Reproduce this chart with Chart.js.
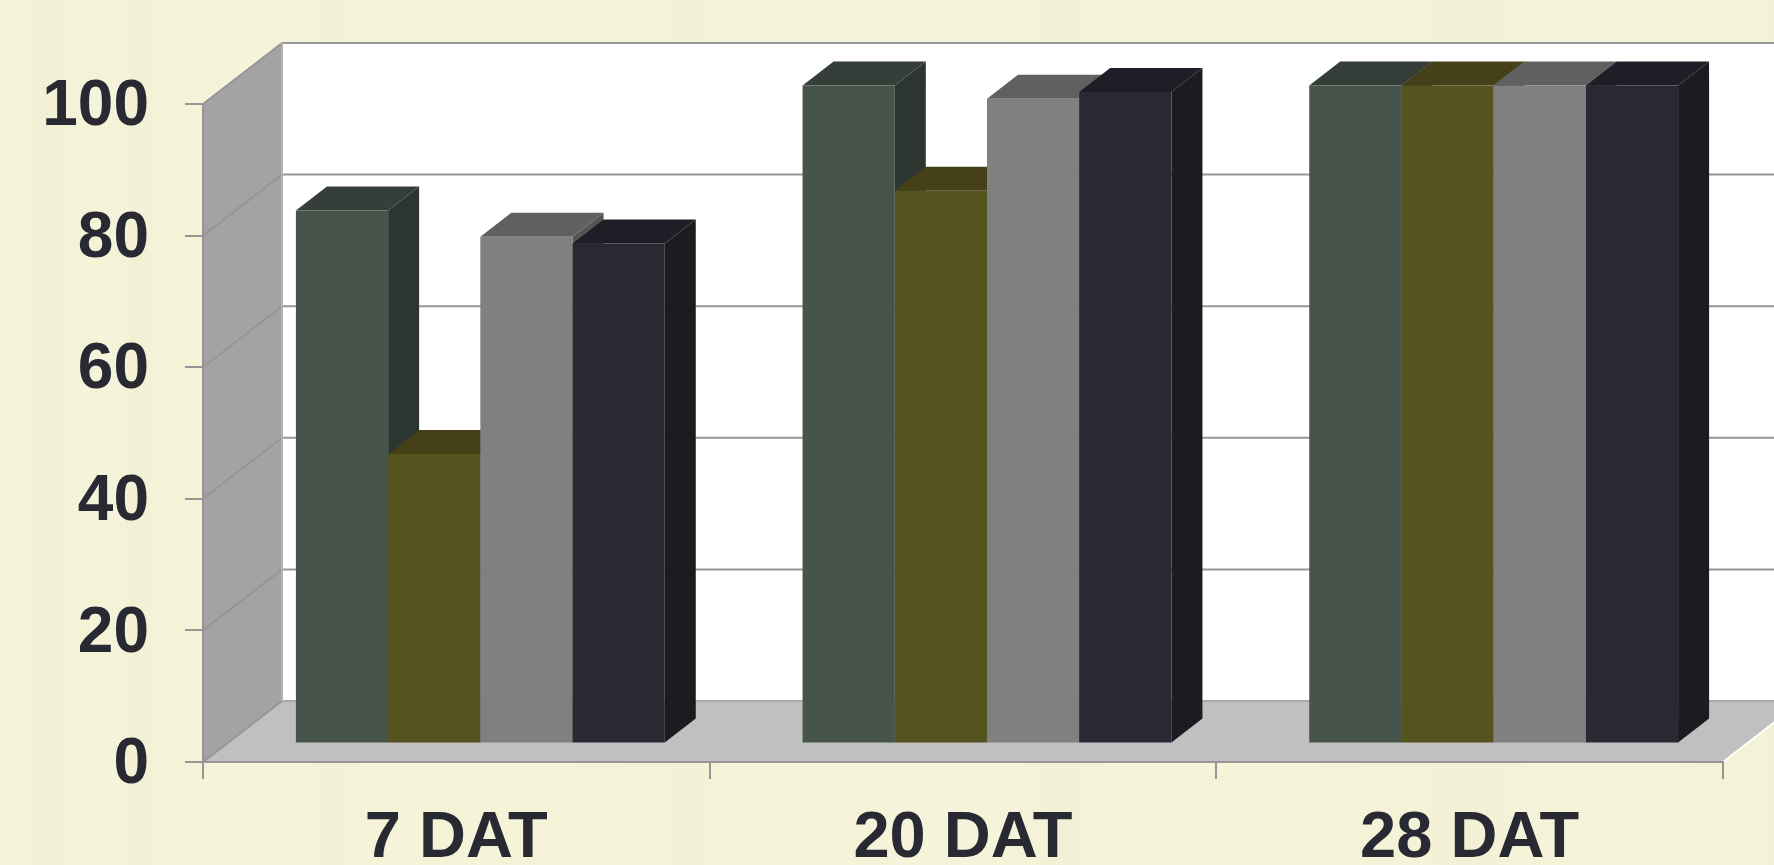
<!DOCTYPE html>
<html>
<head>
<meta charset="utf-8">
<title>DAT</title>
<script src="https://cdn.jsdelivr.net/npm/chart.js@4"></script>
<style>
    html, body {
        margin: 0;
        padding: 0;
        overflow: hidden;
        background-color: #f5f3d8;
        background-image: linear-gradient(90deg,
            #f5f3d9 0px, #f4f2d7 30px, #f2f0d4 45px, #f4f2d7 75px, #f5f3d9 110px,
            #f3f1d5 135px, #f5f3d8 170px, #f5f3d9 300px, #f3f1d5 330px, #f5f3d8 370px,
            #f4f2d7 660px, #f2f0d4 690px, #f5f3d9 730px, #f5f3d9 1000px, #f3f1d5 1060px,
            #f5f3d8 1120px, #f4f2d7 1400px, #f3f1d5 1480px, #f5f3d9 1560px, #f4f2d6 1774px);
    }
    canvas {
        display: block;
    }
</style>
</head>
<body>
<canvas id="bar" width="1774" height="865"></canvas>
<script>
const categories = ["7 DAT", "20 DAT", "28 DAT"];
const tickLabels = [0, 20, 40, 60, 80, 100];

const series1 = [81, 100, 100];
const series2 = [44, 84, 100];
const series3 = [77, 98, 100];
const series4 = [76, 99, 100];

const allSeries = [series1, series2, series3, series4];

// front, top and right side of each column
const frontColors = ["#47544b", "#55531e", "#808080", "#292934"];
const topColors = ["#363e39", "#454018", "#606060", "#1e1e27"];
const sideColors = ["#2c3530", "#3a3614", "#555555", "#1b1b20"];

const textColor = "#292934";
const lineColor = "#969696";
const fontFamily = "'Liberation Sans', Arial, sans-serif";

// depth of the box, and where the columns sit inside it
const boxDepth = { x: 79, y: -61 };
const barOffset = { x: 24, y: -18.5 };
const barDepth = { x: 31, y: -24 };

function polygon(ctx, points, fill) {
    ctx.beginPath();
    points.forEach((p, i) => i ? ctx.lineTo(p[0], p[1]) : ctx.moveTo(p[0], p[1]));
    ctx.closePath();
    ctx.fillStyle = fill;
    ctx.fill();
}

function line(ctx, x1, y1, x2, y2, color) {
    ctx.beginPath();
    ctx.moveTo(x1, y1);
    ctx.lineTo(x2, y2);
    ctx.strokeStyle = color;
    ctx.lineWidth = 2;
    ctx.stroke();
}

// back wall, left wall and floor go under the scales
const box = {
    id: "box",
    beforeDraw(chart) {
        const ctx = chart.ctx;
        const area = chart.chartArea;
        const yScale = chart.scales.y;
        const backLeft = area.left + boxDepth.x;
        const backTop = area.top + boxDepth.y;
        const backBottom = area.bottom + boxDepth.y;
        const backRight = area.right + boxDepth.x;

        ctx.save();
        polygon(ctx, [[backLeft, backTop], [backRight, backTop], [backRight, backBottom], [backLeft, backBottom]], "#ffffff");
        polygon(ctx, [[area.left, area.top], [backLeft, backTop], [backLeft, backBottom], [area.left, area.bottom]], "#a3a3a3");
        polygon(ctx, [[area.left, area.bottom], [area.right, area.bottom], [backRight, backBottom], [backLeft, backBottom]], "#c0c0c0");

        tickLabels.forEach(value => {
            const y = yScale.getPixelForValue(value);
            line(ctx, area.left, y, backLeft, y + boxDepth.y, lineColor);
            if (value > 0)
                line(ctx, backLeft, y + boxDepth.y, backRight, y + boxDepth.y, lineColor);
        });
        line(ctx, backLeft, backBottom, backRight, backBottom, "#a8a8a8");
        line(ctx, backLeft, backTop, backLeft, backBottom, "#b4b4b4");
        line(ctx, area.left, area.top, area.left, area.bottom, lineColor);
        line(ctx, area.right, area.bottom, backRight, backBottom, "#ffffff");
        ctx.restore();
    },
    // columns are painted left to right so each one overlaps the side of the one before it
    beforeDatasetsDraw(chart) {
        const ctx = chart.ctx;
        ctx.save();
        ctx.translate(barOffset.x, barOffset.y);
        allSeries.forEach((values, index) => {
            chart.getDatasetMeta(index).data.forEach(bar => {
                const props = bar.getProps(["x", "y", "base", "width"], true);
                const left = props.x - props.width / 2;
                const right = props.x + props.width / 2;
                const dx = barDepth.x;
                const dy = barDepth.y;
                polygon(ctx, [[right, props.y], [right + dx, props.y + dy], [right + dx, props.base + dy], [right, props.base]], sideColors[index]);
                polygon(ctx, [[left, props.y], [left + dx, props.y + dy], [right + dx, props.y + dy], [right, props.y]], topColors[index]);
                bar.draw(ctx);
            });
        });
        ctx.restore();
        return false;
    }
};

new Chart(document.getElementById("bar"), {
    type: "bar",
    data: {
        labels: categories,
        datasets: allSeries.map((values, index) => ({
            label: "Series " + (index + 1),
            data: values,
            backgroundColor: frontColors[index],
            borderWidth: 0,
            categoryPercentage: 0.728,
            barPercentage: 1
        }))
    },
    options: {
        responsive: false,
        animation: false,
        layout: {
            padding: { top: 104, right: 51, bottom: 0, left: 0 }
        },
        plugins: {
            legend: { display: false },
            title: { display: false },
            tooltip: { enabled: false }
        },
        scales: {
            x: {
                afterFit(scale) {
                    scale.height = 103;
                },
                border: { display: true, color: lineColor, width: 2 },
                grid: {
                    offset: true,
                    drawOnChartArea: false,
                    color: lineColor,
                    lineWidth: 2,
                    tickLength: 17
                },
                ticks: {
                    color: textColor,
                    font: { family: fontFamily, size: 65, weight: "bold" },
                    padding: 21,
                    maxRotation: 0
                }
            },
            y: {
                min: 0,
                max: 100,
                afterFit(scale) {
                    scale.width = 203;
                },
                afterBuildTicks(scale) {
                    scale.ticks = tickLabels.map(value => ({ value: value }));
                },
                border: { display: false },
                grid: {
                    drawOnChartArea: false,
                    color: lineColor,
                    lineWidth: 2,
                    tickLength: 18
                },
                ticks: {
                    color: textColor,
                    font: { family: fontFamily, size: 64, weight: "bold" },
                    padding: 36,
                    labelOffset: 3.5
                }
            }
        }
    },
    plugins: [box]
});
</script>
</body>
</html>
